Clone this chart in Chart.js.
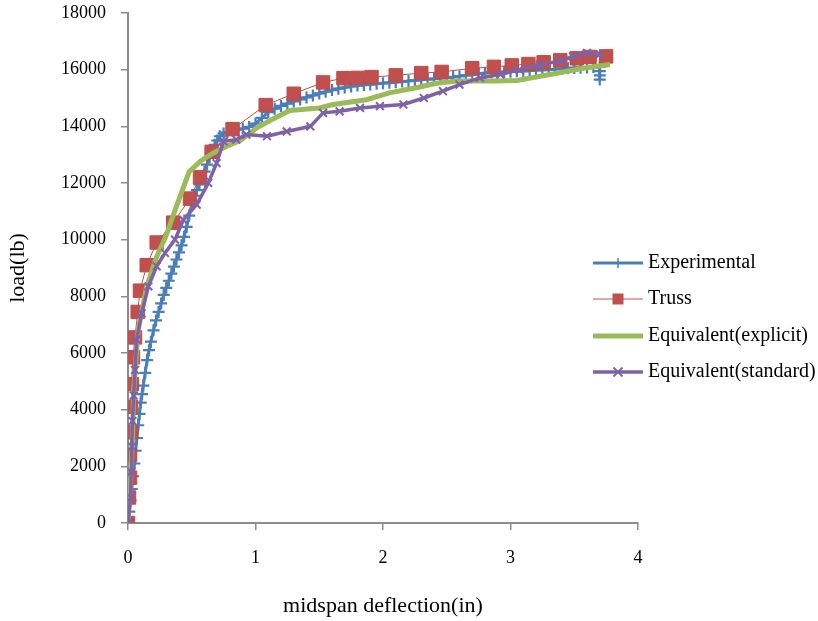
<!DOCTYPE html>
<html>
<head>
<meta charset="utf-8">
<script src="https://cdn.jsdelivr.net/npm/chart.js@4/dist/chart.umd.min.js"></script>
<style>
  html, body { margin: 0; padding: 0; background: #ffffff; }
  #wrap { width: 818px; height: 621px; position: relative; }
</style>
</head>
<body>
<div id="wrap"><canvas id="c" width="818" height="621"></canvas></div>
<script>
// ---- data ----
const seriesNames = ["Experimental", "Truss", "Equivalent(explicit)", "Equivalent(standard)"];

const xTicks = [0, 1, 2, 3, 4];
const yTicks = [0, 2000, 4000, 6000, 8000, 10000, 12000, 14000, 16000, 18000];

const experimentalX = [0, 0.01, 0.02, 0.03, 0.04, 0.05, 0.06, 0.07, 0.08, 0.09, 0.10, 0.11, 0.12, 0.135, 0.15, 0.165, 0.18, 0.20, 0.22, 0.24, 0.26, 0.28, 0.30, 0.32, 0.34, 0.36, 0.38, 0.40, 0.42, 0.44, 0.46, 0.48, 0.50, 0.52, 0.54, 0.56, 0.58, 0.60, 0.62, 0.64, 0.66, 0.68, 0.70, 0.72, 0.75, 0.78, 0.82, 0.86, 0.90, 0.95, 1.00, 1.05, 1.10, 1.15, 1.20, 1.25, 1.30, 1.35, 1.40, 1.45, 1.50, 1.55, 1.60, 1.65, 1.70, 1.75, 1.80, 1.85, 1.90, 1.95, 2.00, 2.05, 2.10, 2.15, 2.20, 2.25, 2.30, 2.35, 2.40, 2.45, 2.50, 2.55, 2.60, 2.65, 2.70, 2.75, 2.80, 2.85, 2.90, 2.95, 3.00, 3.05, 3.10, 3.15, 3.20, 3.25, 3.30, 3.35, 3.40, 3.45, 3.50, 3.55, 3.60, 3.65, 3.70, 3.70, 3.70, 3.70];
const experimentalY = [0, 400, 800, 1200, 1650, 2100, 2550, 3000, 3450, 3850, 4250, 4550, 4850, 5300, 5750, 6100, 6400, 6800, 7150, 7450, 7750, 8050, 8300, 8550, 8800, 9050, 9300, 9550, 9800, 10100, 10450, 10850, 11250, 11550, 11750, 11950, 12150, 12400, 12650, 12900, 13150, 13350, 13500, 13650, 13750, 13800, 13850, 13880, 13920, 13980, 14100, 14300, 14500, 14620, 14720, 14800, 14880, 14950, 15020, 15090, 15160, 15220, 15280, 15330, 15370, 15410, 15440, 15460, 15480, 15500, 15520, 15540, 15560, 15580, 15600, 15620, 15640, 15660, 15680, 15700, 15720, 15740, 15770, 15800, 15830, 15860, 15880, 15900, 15910, 15920, 15930, 15940, 15950, 15960, 15980, 15990, 16000, 16020, 16030, 16050, 16060, 16070, 16080, 16090, 16100, 15950, 15800, 15650];

const trussX = [0, 0.008, 0.016, 0.016, 0.025, 0.024, 0.031, 0.039, 0.055, 0.076, 0.094, 0.147, 0.225, 0.355, 0.486, 0.565, 0.656, 0.82, 1.08, 1.30, 1.53, 1.69, 1.80, 1.91, 2.10, 2.30, 2.46, 2.70, 2.87, 3.01, 3.14, 3.26, 3.39, 3.52, 3.62, 3.75];
const trussY = [0, 900, 1600, 2400, 3200, 4100, 4900, 5850, 6550, 7450, 8200, 9100, 9900, 10600, 11450, 12200, 13100, 13900, 14750, 15150, 15550, 15700, 15710, 15740, 15800, 15880, 15920, 16050, 16100, 16150, 16200, 16260, 16330, 16400, 16450, 16470];

const explicitX = [0, 0.02, 0.035, 0.045, 0.08, 0.147, 0.225, 0.30, 0.37, 0.48, 0.57, 0.67, 0.77, 0.88, 0.94, 1.01, 1.14, 1.27, 1.50, 1.61, 1.87, 2.05, 2.26, 2.42, 2.58, 2.87, 3.05, 3.31, 3.57, 3.78];
const explicitY = [0, 1500, 3000, 4700, 6800, 8350, 9400, 10150, 11050, 12400, 12780, 13060, 13290, 13500, 13700, 13950, 14270, 14560, 14650, 14770, 14940, 15180, 15360, 15520, 15600, 15600, 15620, 15830, 16050, 16180];

const standardX = [0, 0.02, 0.025, 0.03, 0.035, 0.045, 0.055, 0.068, 0.107, 0.16, 0.225, 0.29, 0.369, 0.434, 0.539, 0.63, 0.695, 0.75, 0.85, 0.93, 1.09, 1.245, 1.43, 1.53, 1.66, 1.82, 1.976, 2.16, 2.32, 2.47, 2.60, 2.76, 2.92, 3.07, 3.23, 3.39, 3.49, 3.60, 3.70];
const standardY = [0, 900, 1800, 2700, 3600, 4500, 5400, 6470, 7400, 8350, 9060, 9530, 10000, 10700, 11240, 12000, 12700, 13470, 13530, 13710, 13650, 13820, 14000, 14475, 14530, 14650, 14710, 14770, 15000, 15240, 15470, 15710, 15830, 16000, 16180, 16300, 16470, 16590, 16550];

const xTitle = "midspan deflection(in)";
const yTitle = "load(lb)";

// ---- build chart ----
function pts(xs, ys) { return xs.map((x, i) => ({ x: x, y: ys[i] })); }

const FONT = "'Liberation Serif', 'Times New Roman', serif";
const BLUE = '#4a7ebb', RED = '#c0504d', GREEN = '#9bbb59', PURPLE = '#7f62a6';

const datasets = [
  { label: seriesNames[0], data: pts(experimentalX, experimentalY), borderColor: BLUE, backgroundColor: BLUE,
    borderWidth: 3, pointStyle: 'cross', pointRadius: 6, pointBorderWidth: 2.2, pointBorderColor: BLUE, order: 3 },
  { label: seriesNames[1], data: pts(trussX, trussY), borderColor: RED, backgroundColor: RED,
    borderWidth: 1, pointStyle: 'rect', pointRadius: 9.5, pointBorderWidth: 1, pointBorderColor: '#c44a47', order: 2 },
  { label: seriesNames[2], data: pts(explicitX, explicitY), borderColor: GREEN, backgroundColor: GREEN,
    borderWidth: 5, pointRadius: 0, order: 1 },
  { label: seriesNames[3], data: pts(standardX, standardY), borderColor: PURPLE, backgroundColor: PURPLE,
    borderWidth: 3.5, pointStyle: 'crossRot', pointRadius: 5.5, pointBorderWidth: 2, pointBorderColor: PURPLE, order: 0 }
];

const legendPlugin = {
  id: 'refLegend',
  afterDraw(chart) {
    const ctx = chart.ctx;
    const rowsY = [263, 299, 336, 372];
    const x0 = 593, x1 = 643, xm = 618, tx = 648;
    ctx.save();
    chart.data.datasets.forEach((ds, i) => {
      const y = rowsY[i];
      ctx.strokeStyle = ds.borderColor;
      ctx.lineWidth = ds.borderWidth;
      ctx.beginPath(); ctx.moveTo(x0, y); ctx.lineTo(x1, y); ctx.stroke();
      if (ds.pointStyle === 'cross') {
        ctx.lineWidth = 1.5;
        ctx.beginPath(); ctx.moveTo(xm, y - 5); ctx.lineTo(xm, y + 5); ctx.stroke();
      } else if (ds.pointStyle === 'rect') {
        ctx.fillStyle = ds.backgroundColor;
        ctx.fillRect(xm - 5.5, y - 5.5, 11, 11);
      } else if (ds.pointStyle === 'crossRot') {
        ctx.lineWidth = 1.8;
        ctx.beginPath();
        ctx.moveTo(xm - 4.5, y - 4.5); ctx.lineTo(xm + 4.5, y + 4.5);
        ctx.moveTo(xm + 4.5, y - 4.5); ctx.lineTo(xm - 4.5, y + 4.5);
        ctx.stroke();
      }
      ctx.fillStyle = '#000';
      ctx.font = '20px ' + FONT;
      ctx.textBaseline = 'middle';
      ctx.textAlign = 'left';
      ctx.fillText(ds.label, tx, y);
    });
    ctx.restore();
  }
};

new Chart(document.getElementById('c'), {
  type: 'scatter',
  data: { datasets: datasets },
  options: {
    responsive: false,
    animation: false,
    showLine: true,
    elements: { line: { tension: 0, fill: false } },
    layout: { padding: { left: 0, right: 180, top: 13, bottom: 0 } },
    plugins: { legend: { display: false }, tooltip: { enabled: false } },
    scales: {
      x: {
        type: 'linear', min: 0, max: 4,
        afterBuildTicks: (s) => { s.ticks = xTicks.map(v => ({ value: v })); },
        afterFit: (s) => { s.height = 98; s.paddingLeft = 0; s.paddingRight = 0; },
        ticks: { color: '#000', font: { family: FONT, size: 18 }, padding: 17, callback: (v) => String(v) },
        grid: { display: true, drawOnChartArea: false, drawTicks: true, tickLength: 7, color: '#8c8c8c', lineWidth: 1.5 },
        border: { display: true, color: '#8c8c8c', width: 2 },
        title: { display: true, text: xTitle, color: '#000', font: { family: FONT, size: 22 }, padding: { top: 0, bottom: 2 } }
      },
      y: {
        type: 'linear', min: 0, max: 18000,
        afterBuildTicks: (s) => { s.ticks = yTicks.map(v => ({ value: v })); },
        afterFit: (s) => { s.width = 128; s.paddingTop = 0; s.paddingBottom = 0; },
        ticks: { color: '#000', font: { family: FONT, size: 18 }, padding: 15, callback: (v) => String(v) },
        grid: { display: true, drawOnChartArea: false, drawTicks: true, tickLength: 7, color: '#8c8c8c', lineWidth: 1.5 },
        border: { display: true, color: '#8c8c8c', width: 2 },
        title: { display: true, text: yTitle, color: '#000', font: { family: FONT, size: 22 }, padding: { top: 5, bottom: 0 } }
      }
    }
  },
  plugins: [legendPlugin]
});
</script>
</body>
</html>
